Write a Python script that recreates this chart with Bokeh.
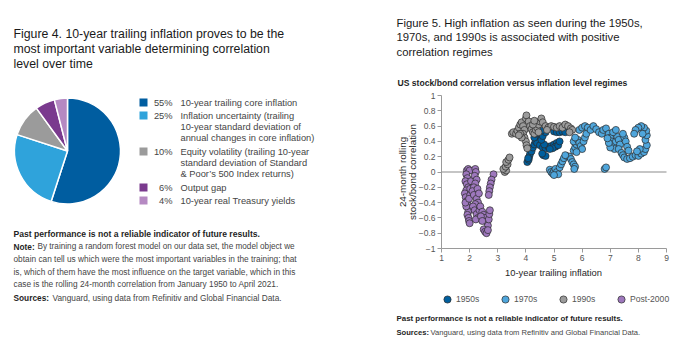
import math
from bokeh.plotting import figure
from bokeh.models import (Label, Range1d, FixedTicker, CustomJSTickFormatter, Legend, LegendItem,
                          LinearAxis)
from bokeh.embed import file_html
from bokeh.resources import INLINE

# ---------------- data ----------------
pie_labels = ["10-year trailing core inflation",
              "Inflation uncertainty (trailing\n10-year standard deviation of\nannual changes in core inflation)",
              "Equity volatility (trailing 10-year\nstandard deviation of Standard\n& Poor\u2019s 500 Index returns)",
              "Output gap",
              "10-year real Treasury yields"]
pie_values = [55, 25, 10, 6, 4]
pie_colors = ["#005DA0", "#2FA3DB", "#9B9B9B", "#7A3A8E", "#B589C2"]

series_names = ["1950s", "1970s", "1990s", "Post-2000"]
series_colors = ["#005F9E", "#4FA6DC", "#9B9B9B", "#9E78BD"]

x_1950s = [4.05, 4.1, 4.12, 4.15, 4.08, 4.2, 4.25, 4.3, 4.35, 4.4, 4.45, 4.5, 4.4, 4.5, 4.6, 4.7, 4.8, 4.9,
           5.0, 5.1, 5.05, 4.95, 4.85, 4.65, 4.55, 4.6, 4.7, 4.55, 4.62, 4.7, 4.58, 5.15, 5.2, 5.0, 5.1, 5.2,
           5.3, 5.4, 4.3, 4.35]
y_1950s = [0.13, 0.16, 0.2, 0.24, 0.18, 0.27, 0.32, 0.36, 0.4, 0.44, 0.48, 0.5, 0.38, 0.35, 0.32, 0.31, 0.33, 0.34,
           0.36, 0.38, 0.33, 0.31, 0.3, 0.36, 0.42, 0.47, 0.52, 0.54, 0.22, 0.21, 0.24, 0.35, 0.4, 0.53, 0.52, 0.52,
           0.53, 0.52, 0.45, 0.5]

x_1970s = [4.85, 4.9, 4.95, 5.0, 5.05, 5.1, 5.15, 5.0,
           5.2, 5.25, 5.3, 5.35, 5.45, 5.55, 5.6, 5.65, 5.7, 5.75, 5.72, 5.4,
           5.7, 5.75, 5.8, 5.7, 5.85, 5.9, 5.95, 6.0, 5.8, 6.05, 6.1, 6.15, 5.75,
           5.9, 6.0, 6.1, 6.2, 6.3, 6.4, 6.5, 6.6, 6.7, 6.75, 6.85,
           6.8, 6.85,
           6.95, 7.0, 7.05, 7.1, 7.15, 7.0, 6.95, 6.9, 7.2, 7.25, 7.3, 7.35, 7.3, 7.4, 7.45, 7.5, 7.6, 7.7,
           7.8, 7.9, 8.0, 8.1, 8.2, 8.25, 8.3, 8.25, 8.3, 8.28, 8.2, 8.1, 8.0, 7.9, 7.85, 7.5, 7.45, 7.55,
           7.6, 7.65, 7.1, 7.2, 8.15, 8.05, 7.95]
y_1970s = [0.03, 0.0, -0.02, 0.01, 0.04, 0.0, -0.03, -0.04,
           0.06, 0.1, 0.14, 0.18, 0.21, 0.2, 0.17, 0.13, 0.1, 0.07, 0.04, 0.22,
           0.28, 0.32, 0.36, 0.4, 0.42, 0.38, 0.34, 0.3, 0.26, 0.4, 0.45, 0.5, 0.45,
           0.55, 0.58, 0.6, 0.58, 0.55, 0.6, 0.56, 0.52, 0.5, 0.55, 0.57,
           0.04, 0.06,
           0.5, 0.45, 0.4, 0.35, 0.3, 0.32, 0.38, 0.44, 0.4, 0.46, 0.42, 0.36, 0.3, 0.25, 0.22, 0.19, 0.17, 0.18,
           0.2, 0.22, 0.21, 0.24, 0.26, 0.3, 0.35, 0.42, 0.48, 0.54, 0.58, 0.6, 0.58, 0.55, 0.5, 0.45, 0.5, 0.4,
           0.33, 0.28, 0.52, 0.55, 0.5, 0.3, 0.27]

x_1990s = [3.25, 3.3, 3.2, 3.28, 3.35, 3.3, 3.38, 3.42,
           3.5, 3.55, 3.65, 3.7, 3.75, 3.8, 3.85, 3.9, 3.95, 3.9, 3.95, 4.0, 4.02, 4.05, 3.85, 3.8, 3.75,
           4.0, 4.02, 4.1, 4.15, 4.2, 4.25, 4.3, 4.35, 4.4, 4.45, 4.5, 4.55, 4.6, 4.7, 4.8, 4.9, 5.0, 5.1,
           5.2, 5.3, 5.4, 5.5, 5.6, 5.65, 5.55, 4.25, 4.3, 4.75, 4.45]
y_1990s = [0.0, 0.02, 0.04, 0.07, 0.1, 0.13, 0.16, 0.19,
           0.5, 0.52, 0.5, 0.54, 0.58, 0.62, 0.65, 0.6, 0.55, 0.5, 0.45, 0.4, 0.35, 0.31, 0.45, 0.5, 0.48,
           0.7, 0.74, 0.66, 0.6, 0.56, 0.52, 0.5, 0.55, 0.58, 0.62, 0.66, 0.7, 0.65, 0.6, 0.58, 0.6, 0.59, 0.58,
           0.6, 0.58, 0.62, 0.6, 0.57, 0.55, 0.52, 0.62, 0.67, 0.55, 0.52]

x_post2000 = [1.9, 1.95, 2.0, 1.88, 1.92, 1.85, 1.9, 1.95, 1.88, 1.83, 1.86, 1.9, 1.94, 1.98, 1.95, 1.92, 1.96,
              1.98, 2.0, 1.88, 1.85, 2.02, 2.05, 2.02, 1.98,
              2.2, 2.22, 2.18, 2.25, 2.2, 2.15, 2.1, 2.15, 2.25, 2.3, 2.2, 2.12, 2.18, 2.25, 2.3, 2.22, 2.35, 2.38,
              2.28, 2.33,
              2.45, 2.5, 2.55, 2.6, 2.65, 2.68, 2.7, 2.72, 2.5, 2.55, 2.6, 2.65, 2.4, 2.45,
              2.85, 2.78, 2.75, 2.72, 2.7, 2.68]
y_post2000 = [0.02, 0.04, 0.02, -0.03, -0.08, -0.12, -0.16, -0.2, -0.24, -0.28, -0.33, -0.38, -0.43, -0.48, -0.52,
              -0.56, -0.6, -0.64, -0.67, -0.45, -0.4, -0.3, -0.12, -0.22, -0.35,
              0.04, 0.0, -0.05, -0.1, -0.15, -0.2, -0.25, -0.3, -0.35, -0.4, -0.42, -0.45, -0.5, -0.55, -0.6, -0.62,
              -0.5, -0.45, -0.22, -0.28,
              -0.52, -0.56, -0.6, -0.65, -0.7, -0.62, -0.55, -0.5, -0.75, -0.78, -0.8, -0.76, -0.58, -0.64,
              -0.03, -0.1, -0.15, -0.2, -0.25, -0.3]

x_ticks = [1, 2, 3, 4, 5, 6, 7, 8, 9]
y_ticks = [-1, -0.8, -0.6, -0.4, -0.2, 0, 0.2, 0.4, 0.6, 0.8, 1]

FONT = "Liberation Sans"
DARK = "#1f1f1f"
MID = "#454545"
W, H = 698, 351

# One canvas: the main ranges are page pixels (for texts and the pie); the scatter uses its own
# linear scales ("sx", "sy") whose plot box is 441..666 px wide and 95..248 px tall.
PX0, PX1, PY_TOP, PY_BOT = 441, 666, 95, 248
kx = (x_ticks[-1] - x_ticks[0]) / (PX1 - PX0)
ky = (y_ticks[-1] - y_ticks[0]) / (PY_BOT - PY_TOP)

p = figure(width=W, height=H, x_range=Range1d(0, W), y_range=Range1d(0, H),
           output_backend="svg", toolbar_location=None, x_axis_type=None, y_axis_type=None,
           min_border=0)
p.grid.visible = False
p.outline_line_color = None
p.extra_x_ranges = {"sx": Range1d(x_ticks[0] - PX0 * kx, x_ticks[0] + (W - PX0) * kx)}
p.extra_y_ranges = {"sy": Range1d(y_ticks[0] - (H - PY_BOT) * ky, y_ticks[-1] + PY_TOP * ky)}

def L(px, py, text, size, color=DARK, style="normal", align="left", angle=0.0):
    p.add_layout(Label(x=px, y=H - py, text=text, text_font=FONT, text_font_size=f"{size}px",
                       text_color=color, text_font_style=style, text_align=align,
                       text_baseline="middle", angle=angle))

# ---------------- left panel ----------------
for i, t in enumerate(["Figure 4. 10-year trailing inflation proves to be the",
                       "most important variable determining correlation",
                       "level over time"]):
    L(13, 33 + 15 * i, t, 12.3, "#1a1a1a")

cx, cy, r = 67, H - 150.5, 53
total = sum(pie_values)
acc = 0.0
starts, ends = [], []
for v in pie_values:
    starts.append(math.pi / 2 - acc / total * 2 * math.pi)
    acc += v
    ends.append(math.pi / 2 - acc / total * 2 * math.pi)
p.wedge(x=[cx] * 5, y=[cy] * 5, radius=r, start_angle=starts, end_angle=ends, direction="clock",
        fill_color=pie_colors, line_color="white", line_width=1.5)

row_y = [102, 115, 151, 187, 200]
p.scatter(x=[143] * 5, y=[H - v for v in row_y], marker="square", size=8, fill_color=pie_colors,
          line_color=None)
for yy, val, lab in zip(row_y, pie_values, pie_labels):
    L(172, yy, f"{val}%", 9.3, MID, align="right")
    for k, line in enumerate(lab.split("\n")):
        L(180, yy + 11 * k, line, 9.3, MID)

L(13, 233, "Past performance is not a reliable indicator of future results.", 8.6, DARK, "bold")
L(13, 246, "Note:", 8.3, DARK, "bold")
L(37, 246, "By training a random forest model on our data set, the model object we", 8.2, MID)
for k, t in enumerate(["obtain can tell us which were the most important variables in the training; that",
                       "is, which of them have the most influence on the target variable, which in this",
                       "case is the rolling 24-month correlation from January 1950 to April 2021."]):
    L(13, 258.5 + 12.5 * k, t, 8.3, MID)
L(13, 297, "Sources:", 8.3, DARK, "bold")
L(52, 297, "Vanguard, using data from Refinitiv and Global Financial Data.", 8.3, MID)

# ---------------- right panel ----------------
for i, t in enumerate(["Figure 5. High inflation as seen during the 1950s,",
                       "1970s, and 1990s is associated with positive",
                       "correlation regimes"]):
    L(396, 22 + 14.5 * i, t, 11.3, "#1a1a1a")
L(397, 82, "US stock/bond correlation versus inflation level regimes", 8.6, DARK, "bold")

p.segment(x0=[x_ticks[0]], y0=[0], x1=[x_ticks[-1]], y1=[0], x_range_name="sx", y_range_name="sy",
          line_color="#8c8c8c", line_width=1.2)

xs = [x_1950s, x_1970s, x_1990s, x_post2000]
ys = [y_1950s, y_1970s, y_1990s, y_post2000]
items = []
for name, col, xv, yv in zip(series_names, series_colors, xs, ys):
    rr = p.scatter(x=xv, y=yv, size=7, fill_color=col, line_color="#2a2a2a", line_width=0.7,
                   x_range_name="sx", y_range_name="sy")
    items.append(LegendItem(label=name, renderers=[rr]))

xaxis = LinearAxis(x_range_name="sx", y_range_name="sy", fixed_location=y_ticks[0],
                   bounds=(x_ticks[0], x_ticks[-1]), ticker=FixedTicker(ticks=x_ticks))
yaxis = LinearAxis(x_range_name="sx", y_range_name="sy", fixed_location=x_ticks[0],
                   bounds=(y_ticks[0], y_ticks[-1]), ticker=FixedTicker(ticks=y_ticks))
yaxis.formatter = CustomJSTickFormatter(code="""
const a = Math.abs(tick);
let s;
if (a < 1e-9) { s = '0'; }
else if (Math.abs(a - 1) < 1e-9) { s = String(Math.round(tick)); }
else { s = tick.toFixed(1); }
return s.replace('-', '\\u2212');
""")
for ax in (xaxis, yaxis):
    ax.axis_line_color = "#9a9a9a"
    ax.major_tick_line_color = "#9a9a9a"
    ax.major_tick_in = 0
    ax.major_tick_out = 4
    ax.minor_tick_line_color = None
    ax.major_label_text_font = FONT
    ax.major_label_text_font_size = "8.5px"
    ax.major_label_text_color = "#555555"
    ax.major_label_standoff = 2
p.add_layout(xaxis, "below")
p.add_layout(yaxis, "left")

L(553, 272, "10-year trailing inflation", 9.4, DARK, align="center")
L(402, 171.5, "24-month rolling", 9.8, DARK, align="center", angle=math.pi / 2)
L(412, 171.5, "stock/bond correlation", 9.8, DARK, align="center", angle=math.pi / 2)

legend = Legend(items=items, orientation="horizontal", location=(438, H - 308),
                glyph_width=18, glyph_height=18, label_standoff=0, label_width=36, spacing=4,
                padding=6, margin=0, border_line_color=None, background_fill_alpha=0,
                label_text_font=FONT, label_text_font_size="8.6px", label_text_color="#555555",
                label_height=18)
p.add_layout(legend)

L(396, 318, "Past performance is not a reliable indicator of future results.", 7.9, DARK, "bold")
L(396, 332, "Sources:", 7.6, DARK, "bold")
L(430, 332, "Vanguard, using data from Refinitiv and Global Financial Data.", 7.6, MID)

open("out.html", "w").write(file_html(p, INLINE))
